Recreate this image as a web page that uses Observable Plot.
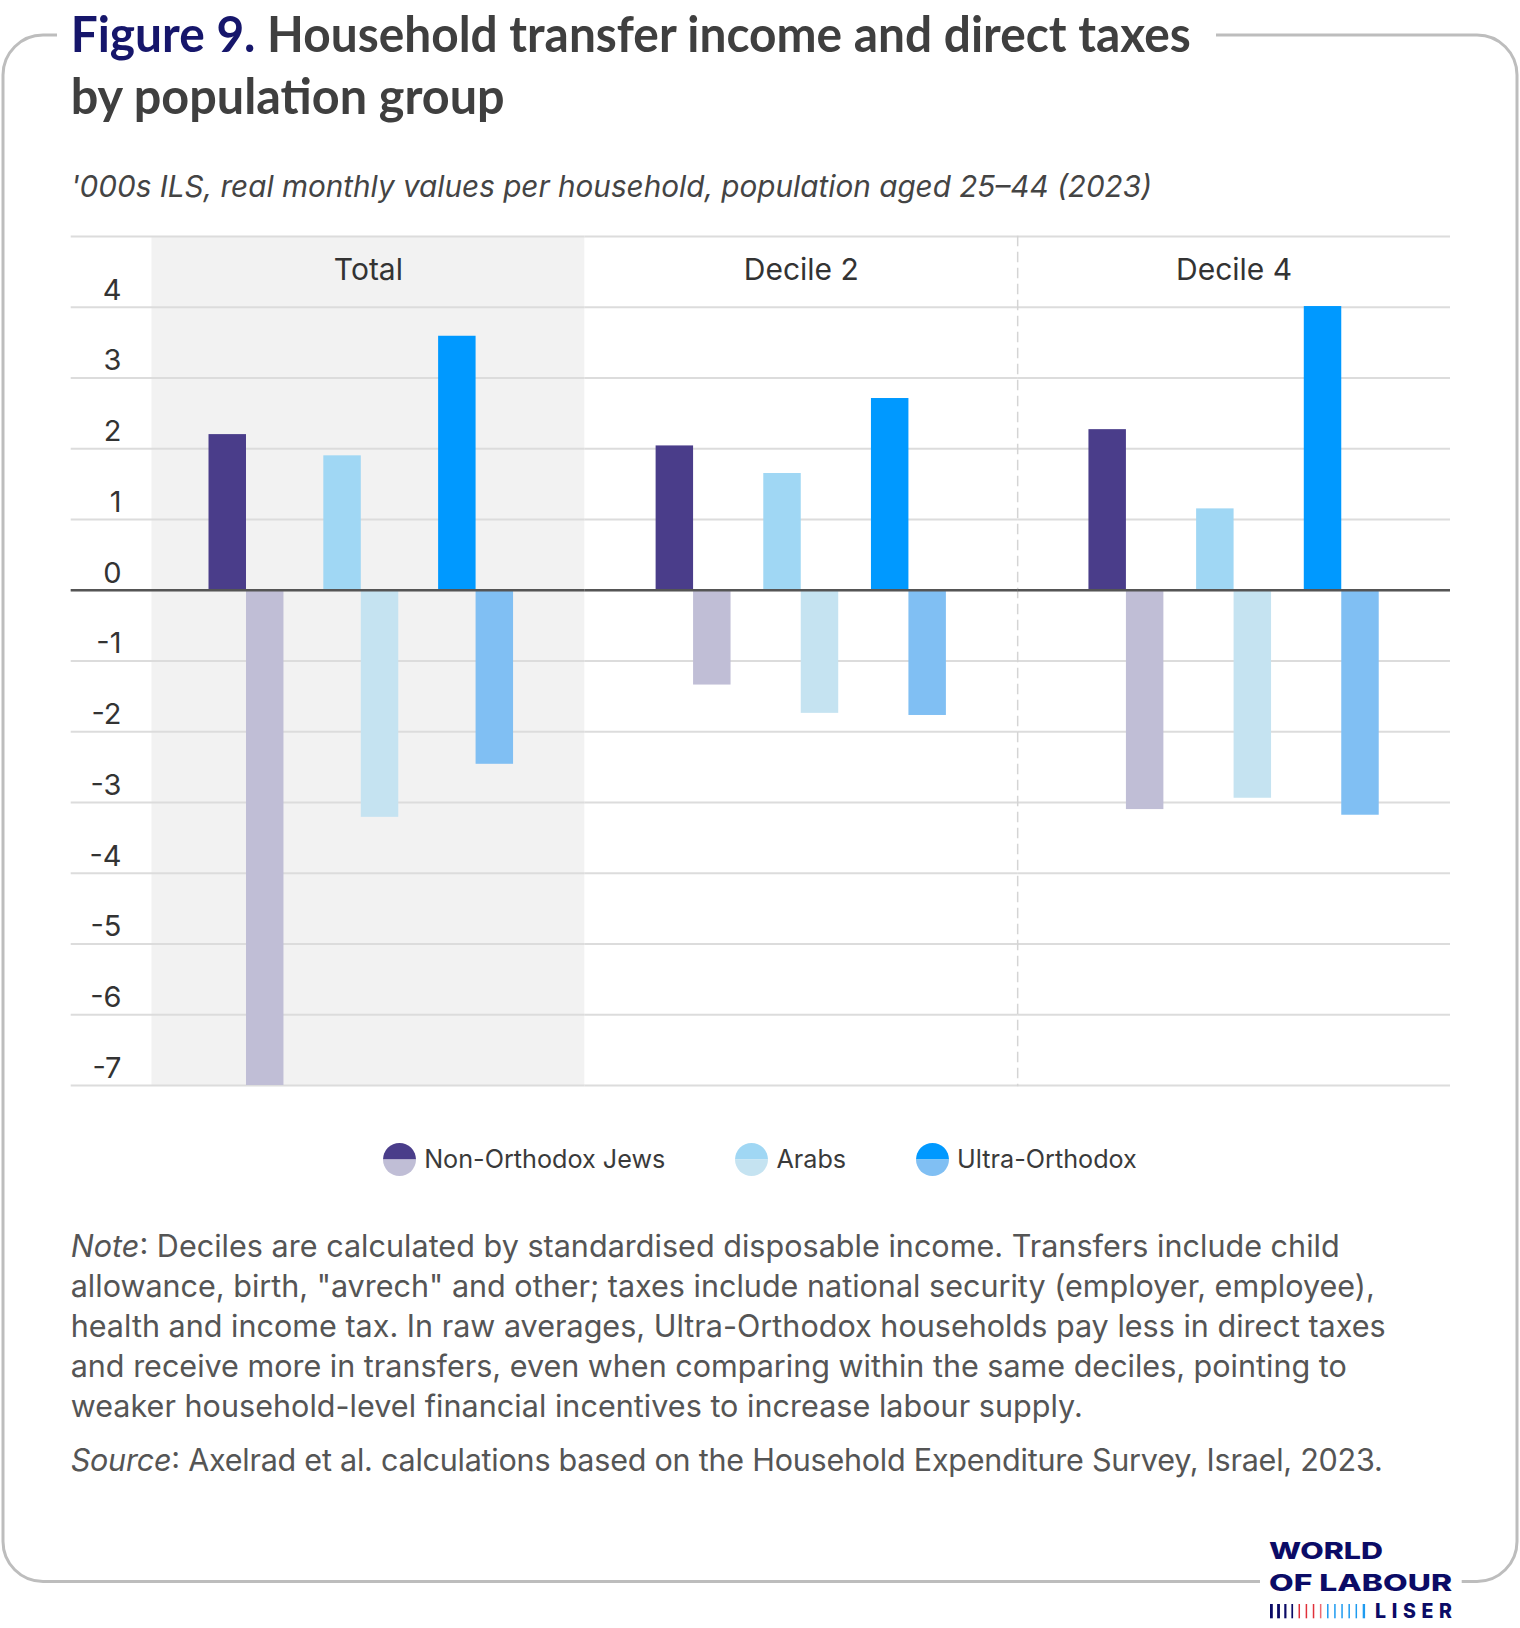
<!DOCTYPE html>
<html><head><meta charset="utf-8">
<script src="https://cdn.jsdelivr.net/npm/d3@7"></script>
<script src="https://cdn.jsdelivr.net/npm/@observablehq/plot@0.6"></script>
<style>
html,body{margin:0;padding:0;background:#fff;}
#page{position:relative;width:1520px;height:1628px;overflow:hidden;background:#fff;font-family:Inter,"DejaVu Sans",sans-serif;}
#deco{position:absolute;left:0;top:0;}
#chart{position:absolute;left:0;top:200px;}
#legend{position:absolute;left:0;top:1140px;width:1520px;height:38px;display:flex;justify-content:center;align-items:center;}
.item{display:flex;align-items:center;margin-right:70px;}
.item:last-child{margin-right:0;}
.item span{margin-left:8px;font-size:25.2px;color:#3a3a3a;white-space:nowrap;}
</style></head>
<body>
<div id="page">
  <svg id="deco" width="1520" height="1628"></svg>
  <div id="chart"></div>
  <div id="legend"></div>
</div>
<script>
// ---------- data ----------
const panels = ["Total", "Decile 2", "Decile 4"];
const groups = ["Non-Orthodox Jews", "Arabs", "Ultra-Orthodox"];
const transferTotal   = [2.20, 1.90, 3.59];
const transferDecile2 = [2.04, 1.65, 2.71];
const transferDecile4 = [2.27, 1.15, 4.01];
const taxTotal   = [-7.00, -3.21, -2.46];
const taxDecile2 = [-1.34, -1.74, -1.77];
const taxDecile4 = [-3.10, -2.94, -3.18];
const transferColors = ["#4a3d8a", "#a0d7f4", "#0099ff"];
const taxColors      = ["#c0bed6", "#c5e3f1", "#80bff3"];
const yTicks  = [-7, -6, -5, -4, -3, -2, -1, 0, 1, 2, 3, 4, 5];
const yLabels = [-7, -6, -5, -4, -3, -2, -1, 0, 1, 2, 3, 4];

const titleLead = "Figure 9.";
const titleRest = " Household transfer income and direct taxes";
const titleLine2 = "by population group";
const subtitle = "'000s ILS, real monthly values per household, population aged 25\u201344 (2023)";
const noteLines = [
  ["Note", ": Deciles are calculated by standardised disposable income. Transfers include child"],
  ["", "allowance, birth, \"avrech\" and other; taxes include national security (employer, employee),"],
  ["", "health and income tax. In raw averages, Ultra-Orthodox households pay less in direct taxes"],
  ["", "and receive more in transfers, even when comparing within the same deciles, pointing to"],
  ["", "weaker household-level financial incentives to increase labour supply."]
];
const sourceLine = ["Source", ": Axelrad et al. calculations based on the Household Expenditure Survey, Israel, 2023."];

// ---------- table built from arrays ----------
const transferByPanel = [transferTotal, transferDecile2, transferDecile4];
const taxByPanel = [taxTotal, taxDecile2, taxDecile4];
const rows = panels.flatMap((p, i) => groups.map((g, j) => ({
  panel: p, group: g,
  transfer: transferByPanel[i][j], tax: taxByPanel[i][j],
  tColor: transferColors[j], xColor: taxColors[j]
})));
const gridRows = panels.flatMap(p => yTicks.map(v => ({panel: p, v})));
const zeroRows = panels.map(p => ({panel: p, v: 0}));

// ---------- layout ----------
const W = 1520, H = 895, ML = 151.5, MR = 70, MT = 36, MB = 10;
const padIn = 0.304, padOut = 0.662;
const facetW = (W - ML - MR) / panels.length;
const step = facetW / (groups.length - padIn + 2 * padOut);
const half = step * (1 - padIn) / 2;
const ext = ML - 70.7;
// the "Total" panel spreads its groups a little wider (anchored on the last group)
const totalStep = 114.8;
const totalShift = j => (j - (groups.length - 1)) * (totalStep - step);

const decileRows = rows.filter(d => d.panel !== "Total");
const totalRows = rows.filter(d => d.panel === "Total");
const barMarks = [
  Plot.barY(decileRows, {fx: "panel", x: "group", y: "transfer", fill: "tColor", insetRight: half}),
  Plot.barY(decileRows, {fx: "panel", x: "group", y: "tax", fill: "xColor", insetLeft: half}),
  ...groups.flatMap((g, j) => {
    const sub = totalRows.filter(d => d.group === g);
    return [
      Plot.barY(sub, {fx: "panel", x: "group", y: "transfer", fill: "tColor", insetRight: half, dx: totalShift(j)}),
      Plot.barY(sub, {fx: "panel", x: "group", y: "tax", fill: "xColor", insetLeft: half, dx: totalShift(j)})
    ];
  })
];

const chart = Plot.plot({
  width: W, height: H,
  marginLeft: ML, marginRight: MR, marginTop: MT, marginBottom: MB,
  style: {fontFamily: "Inter, sans-serif", background: "none", overflow: "visible", color: "#333"},
  fx: {domain: panels, padding: 0, axis: null, label: null, round: false},
  x: {domain: groups, paddingInner: padIn, paddingOuter: padOut, axis: null, round: false},
  y: {domain: [yTicks[0], yTicks[yTicks.length - 1]], label: null},
  marks: [
    Plot.rect(["Total"], {fx: d => d, fill: "#f2f2f2"}),
    Plot.ruleY(gridRows.filter(d => d.panel === "Total"), {fx: "panel", y: "v", stroke: "#dcdcdc", strokeWidth: 2, insetLeft: -ext}),
    Plot.ruleY(gridRows.filter(d => d.panel !== "Total"), {fx: "panel", y: "v", stroke: "#dcdcdc", strokeWidth: 2}),
    Plot.frame({anchor: "left", fx: ["Decile 4"], stroke: "#d4d4d4", strokeWidth: 1.5, strokeDasharray: "9,7"}),
    ...barMarks,
    Plot.ruleY(zeroRows.filter(d => d.panel === "Total"), {fx: "panel", y: "v", stroke: "#555", strokeWidth: 2.5, insetLeft: -ext}),
    Plot.ruleY(zeroRows.filter(d => d.panel !== "Total"), {fx: "panel", y: "v", stroke: "#555", strokeWidth: 2.5}),
    Plot.axisY({ticks: yLabels, tickSize: 0, tickPadding: 30.5, dy: -17, fontSize: 29, color: "#333",
                fontVariant: "normal", tickFormat: d => String(d), label: null}),
    Plot.text(panels, {fx: d => d, text: d => d, frameAnchor: "top", lineAnchor: "top", dy: 22, fontSize: 30, fill: "#333"})
  ]
});
document.getElementById("chart").appendChild(chart);

// ---------- legend ----------
const legend = d3.select("#legend");
groups.forEach((g, j) => {
  const item = legend.append("div").attr("class", "item");
  const s = item.append("svg").attr("width", 33).attr("height", 33);
  s.append("path").attr("d", "M0,16.5 A16.5,16.5 0 0 1 33,16.5 Z").attr("fill", transferColors[j]);
  s.append("path").attr("d", "M0,16.5 A16.5,16.5 0 0 0 33,16.5 Z").attr("fill", taxColors[j]);
  item.append("span").text(g);
});

// ---------- decorations: frame, titles, notes, logo ----------
const deco = d3.select("#deco");
deco.append("path")
  .attr("d", "M1216,35 H1477 A40,40 0 0 1 1517,75 V1541.5 A40,40 0 0 1 1477,1581.5 H1461.7 M1260,1581.5 H43 A40,40 0 0 1 3,1541.5 V75 A40,40 0 0 1 43,35 H57")
  .attr("fill", "none").attr("stroke", "#bdbdbd").attr("stroke-width", 3);

const t1 = deco.append("text").attr("x", 70.7).attr("y", 51.7)
  .attr("font-family", "Lato, sans-serif").attr("font-weight", 700).attr("font-size", 49)
  .attr("textLength", 1120).attr("lengthAdjust", "spacingAndGlyphs");
t1.append("tspan").attr("fill", "#16166b").text(titleLead);
t1.append("tspan").attr("fill", "#3f3f3f").text(titleRest);
deco.append("text").attr("x", 70.7).attr("y", 114)
  .attr("font-family", "Lato, sans-serif").attr("font-weight", 700).attr("font-size", 49)
  .attr("fill", "#3f3f3f").attr("textLength", 434).attr("lengthAdjust", "spacingAndGlyphs")
  .text(titleLine2);

// fit a text's font size so its natural width matches the target
function fitSize(sel, base, target) {
  sel.attr("font-size", base);
  const w = sel.node().getComputedTextLength();
  return w > 0 ? base * target / w : base;
}

const sub = deco.append("text").attr("x", 70.7).attr("y", 197)
  .attr("font-family", "Inter, sans-serif").attr("font-style", "italic")
  .attr("fill", "#444").text(subtitle);
sub.attr("font-size", fitSize(sub, 26, 1082));

const noteY = [1257, 1296.5, 1337, 1376.5, 1417];
const noteW = [1269, 1304, 1315, 1276, 1012];
const noteSel = [];
noteLines.forEach((ln, i) => {
  const t = deco.append("text").attr("x", 70.7).attr("y", noteY[i])
    .attr("font-family", "Inter, sans-serif").attr("fill", "#555");
  if (ln[0]) t.append("tspan").attr("font-style", "italic").text(ln[0]);
  t.append("tspan").text(ln[1]);
  noteSel.push(t);
});
const st = deco.append("text").attr("x", 70.7).attr("y", 1470.5)
  .attr("font-family", "Inter, sans-serif").attr("fill", "#555");
st.append("tspan").attr("font-style", "italic").text(sourceLine[0]);
st.append("tspan").text(sourceLine[1]);
noteSel.push(st);
const noteTargets = noteW.concat([1312]);
const sizes = noteSel.map((t, i) => fitSize(t, 25, noteTargets[i]));
const noteSize = d3.median(sizes);
noteSel.forEach((t, i) => {
  t.attr("font-size", noteSize).attr("textLength", noteTargets[i]).attr("lengthAdjust", "spacing");
});

// logo
const navy = "#0b0b66";
deco.append("text").attr("x", 1269).attr("y", 1559.3)
  .attr("font-family", "Inter, sans-serif").attr("font-weight", 800).attr("font-size", 23)
  .attr("fill", navy).attr("textLength", 114).attr("lengthAdjust", "spacingAndGlyphs").text("WORLD");
deco.append("text").attr("x", 1269).attr("y", 1591)
  .attr("font-family", "Inter, sans-serif").attr("font-weight", 800).attr("font-size", 23)
  .attr("fill", navy).attr("textLength", 183).attr("lengthAdjust", "spacingAndGlyphs").text("OF LABOUR");
const logoBarColors = [navy, navy, navy, navy, "#e0303a", "#e0303a", "#e0303a", "#ee6a70",
  "#1e9bf0", "#1e9bf0", "#1e9bf0", "#1e9bf0", "#1e9bf0", "#1e9bf0"];
const logoBarW = [2.8, 2.8, 2.2, 1.7, 1.5, 1.5, 1.5, 1.5, 1.5, 1.5, 1.5, 1.5, 1.5, 2.4];
logoBarColors.forEach((c, i) => {
  deco.append("rect").attr("x", 1270 + i * 7.13).attr("y", 1604).attr("width", logoBarW[i])
    .attr("height", 14.3).attr("fill", c);
});
deco.append("text").attr("x", 1375).attr("y", 1618.3)
  .attr("font-family", "Inter, sans-serif").attr("font-weight", 800).attr("font-size", 19.5)
  .attr("fill", navy).attr("textLength", 77).attr("lengthAdjust", "spacing").text("LISER");
</script>
</body></html>
